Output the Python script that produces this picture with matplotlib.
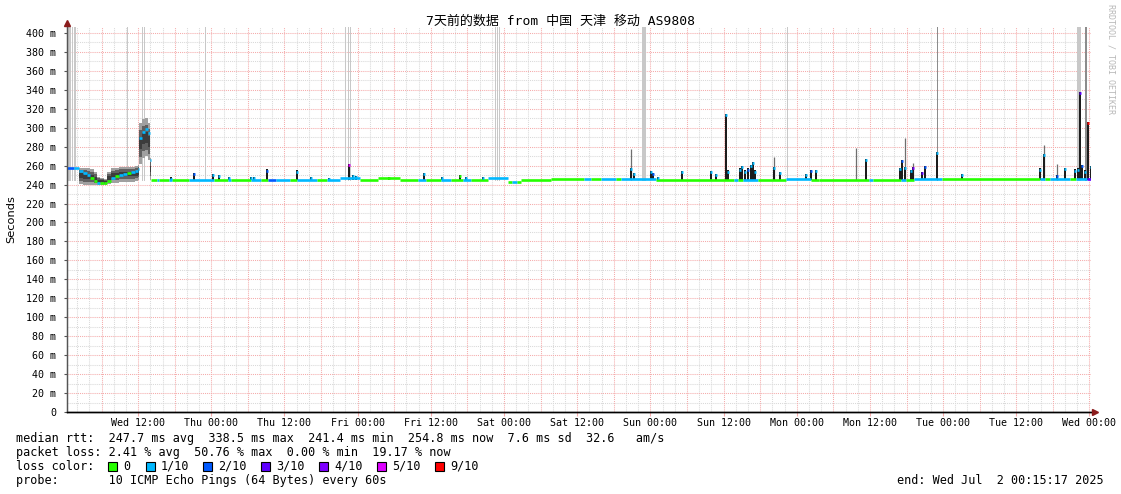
import numpy as np
import matplotlib
matplotlib.use('Agg')
import matplotlib.pyplot as plt
from matplotlib.collections import LineCollection
from matplotlib.patches import Rectangle

# ------------------------------------------------------------------ data
title = '7天前的数据 from 中国 天津 移动 AS9808'
t_start, t_end = 0.2547, 168.2547          # hours since Wed 00:00 (7 days)

xtick_hours = [12, 24, 36, 48, 60, 72, 84, 96, 108, 120, 132, 144, 156, 168]
xtick_labels = ['Wed 12:00', 'Thu 00:00', 'Thu 12:00', 'Fri 00:00', 'Fri 12:00',
                'Sat 00:00', 'Sat 12:00', 'Sun 00:00', 'Sun 12:00', 'Mon 00:00',
                'Mon 12:00', 'Tue 00:00', 'Tue 12:00', 'Wed 00:00']
ytick_values = list(range(0, 401, 20))
ytick_labels = ['0'] + ['%d m' % v for v in range(20, 401, 20)]

loss_levels = [0, 1, 2, 3, 4, 5, 9]
loss_labels = ['0', '1/10', '2/10', '3/10', '4/10', '5/10', '9/10']
loss_colors = ['#26ff00', '#00b8ff', '#0059ff', '#5e00ff', '#7e00ff', '#dd00ff', '#ff0000']

# median rtt (ms) as steps: start hour, value, loss (tenths)
med_t = [0.25, 1.44, 2.26, 2.92, 3.57, 4.07, 4.72, 5.21, 5.70, 6.36,
         6.85, 7.51, 8.16, 8.82, 9.48, 10.13, 10.79, 11.44, 11.93, 12.18,
         12.59, 13.08, 13.57, 13.90,
         14.07, 15.05, 15.38, 17.02, 17.51, 20.30, 24.39, 26.69, 27.18, 30.46,
         32.10, 33.25, 34.56, 36.98, 38.13, 41.41, 43.05, 45.18, 48.46, 51.28,
         55.02, 57.97, 59.15, 61.61, 63.25, 65.21, 66.52, 69.31, 72.59, 73.25,
         74.07, 74.72, 79.64, 85.05, 86.20, 87.84, 90.30, 91.11, 96.85, 109.64,
         110.30, 111.11, 113.57, 118.16, 122.26, 123.57, 131.77, 132.43, 137.02, 137.84,
         139.15, 143.90, 159.97, 160.79, 161.61, 164.89, 165.87, 167.67]
med_v = [257, 257, 254, 252, 250, 247, 244, 242, 242, 242,
         244, 247, 249, 250, 251, 252, 253, 254, 256, 289,
         296, 299, 294, 266,
         244.5, 244.5, 244.5, 244.5, 244.5, 244.5, 244.5, 244.5, 244.5, 244.5,
         244.5, 244.5, 244.5, 244.5, 244.5, 244.5, 244.5, 246.5, 245, 247,
         245, 245, 245, 245, 245, 245, 245, 246.5, 243, 243,
         243, 244.5, 245.5, 245.5, 245.5, 245.5, 245.5, 245.5, 245, 245,
         245, 245, 245, 246, 245, 245, 245, 245, 245, 245,
         245.5, 245.5, 245.5, 245.5, 245.5, 245.5, 245.5, 245.5]
med_loss = [2, 1, 1, 1, 1, 0, 0, 1, 0, 0,
            0, 1, 0, 1, 1, 0, 1, 1, 1, 1,
            1, 1, 1, 1,
            0, 1, 0, 1, 0, 1, 0, 1, 0, 1,
            0, 2, 1, 0, 1, 0, 1, 1, 0, 0,
            0, 1, 0, 1, 0, 1, 0, 1, 0, 1,
            0, 0, 0, 1, 0, 1, 0, 1, 0, 1,
            0, 1, 0, 1, 0, 0, 1, 0, 1, 0,
            1, 0, 1, 0, 1, 0, 1, 3]

# smoke (spread of pings) during the first hours
smoke_t = [2.26, 2.92, 3.57, 4.07, 4.72, 5.21, 5.70, 6.36, 6.85, 7.51, 8.16, 8.82,
           9.48, 10.13, 10.79, 11.44, 11.93, 12.18, 12.59, 13.08, 13.57, 13.90, 14.07]
smoke_lo = [241, 240, 240, 240, 240, 240, 240, 240, 241, 242, 242, 243,
            243, 243, 243, 244, 245, 262, 268, 270, 266, 245, 245]
smoke_hi = [258, 258, 257, 256, 253, 248, 247, 246, 253, 257, 258, 259,
            259, 259, 259, 260, 261, 305, 309, 310, 305, 268, 245]

# short latency spikes: hour, top (ms), loss at top
spike_t = [17.34, 21.11, 24.23, 25.21, 26.85, 30.46, 30.95, 33.08, 38.13, 40.30,
           43.25, 46.52, 47.21, 47.70, 53.11, 58.80, 61.90, 64.70, 65.70, 68.50,
           92.75, 93.25, 96.15, 96.50, 97.30, 101.20, 106.00, 106.80, 108.40, 108.70,
           110.70, 110.96, 111.45, 111.93, 112.43, 112.75, 113.08, 116.20, 117.20, 121.50,
           122.40, 123.10, 131.40, 137.00, 137.20, 137.70, 138.66, 139.10, 140.60, 141.00,
           143.00, 147.10, 159.85, 160.60, 162.70, 164.00, 165.70, 166.20, 166.50, 166.80,
           167.30, 167.70, 168.20]
spike_top = [247.5, 252, 251.5, 250, 248, 248, 248, 256, 255, 248,
             247, 262, 250, 249, 248, 252, 248, 250, 248, 248,
             258, 252, 254, 252, 248.5, 254, 254, 251, 315, 255,
             257, 260, 255, 257, 261, 264, 255, 259, 253.5, 251,
             255.5, 255.5, 267.5, 258, 266, 259, 255.5, 259, 253, 259.5,
             274.5, 251, 257, 272.4, 250, 258, 256, 257, 338, 261,
             255, 306.5, 259.6]
spike_loss = [1, 2, 1, 1, 1, 1, 1, 2, 1, 1,
              1, 5, 1, 1, 0, 1, 1, 0, 1, 1,
              1, 1, 1, 2, 1, 1, 1, 1, 1, 1,
              1, 1, 1, 2, 1, 1, 1, 1, 1, 1,
              2, 1, 1, 1, 2, 1, 1, 4, 3, 2,
              1, 1, 1, 1, 2, 1, 1, 1, 3, 2,
              1, 9, 1]

# single slow pings (thin whiskers)
whisk_t = [92.75, 116.20, 129.70, 137.70, 139.10, 160.60, 162.70]
whisk_top = [278, 269, 278.5, 289, 262.5, 282, 262]

# periods where max ping is off the scale
gap_start = [0.41, 1.11, 1.49, 10.22, 12.59, 12.92, 23.00, 45.95, 46.36, 46.69,
             70.54, 70.82, 71.20, 94.67, 118.46, 165.98]
gap_end = [0.95, 1.39, 1.77, 10.38, 12.75, 13.08, 23.16, 46.11, 46.52, 46.85,
           70.70, 70.98, 71.36, 95.33, 118.62, 166.64]
dgap_start = [143.00, 167.34]
dgap_end = [143.16, 167.62]

stats_rtt = 'median rtt:  247.7 ms avg  338.5 ms max  241.4 ms min  254.8 ms now  7.6 ms sd  32.6   am/s'
stats_loss = 'packet loss: 2.41 % avg  50.76 % max  0.00 % min  19.17 % now'
probe_txt = 'probe:       10 ICMP Echo Pings (64 Bytes) every 60s'
end_txt = 'end: Wed Jul  2 00:15:17 2025'

# ------------------------------------------------------------------ figure
W, H = 1121, 494
fig = plt.figure(figsize=(W / 100, H / 100), dpi=100)
fig.patch.set_facecolor('white')
L, R, B, T = 66.5, 1091, 412, 27
ax = fig.add_axes([L / W, 1 - B / H, (R - L) / W, (B - T) / H])
ymax = 400 + (33 - T) * 400 / (412 - 33)
ax.set_xlim(t_start, t_end)
ax.set_ylim(0, ymax)

MONO = 'DejaVu Sans Mono'
cmap = dict(zip(loss_levels, loss_colors))
px_h = (t_end - t_start) / (R - L)   # hours per pixel

# grid
for v in np.arange(10, 401, 10):
    major = (v % 20 == 0)
    ax.axhline(v, color='#f5abab' if major else '#d9d9d9', lw=0.75,
               ls=(0, (1, 1)), zorder=0.5 if major else 0.4)
for h in np.arange(2, 169, 2):
    major = (h % 6 == 0)
    ax.axvline(h, color='#f5abab' if major else '#d9d9d9', lw=0.75,
               ls=(0, (1, 1)), zorder=0.5 if major else 0.4)

# off-scale gaps
for s, e in zip(gap_start, gap_end):
    ax.add_patch(Rectangle((s, 244), e - s, ymax - 244, color='#c8c8c8', lw=0, zorder=1))
for s, e in zip(dgap_start, dgap_end):
    ax.add_patch(Rectangle((s, 244), e - s, ymax - 244, color='#8c8c8c', lw=0, zorder=1))

# smoke
st = np.array(smoke_t); lo = np.array(smoke_lo, float); hi = np.array(smoke_hi, float)
mid = (lo + hi) / 2
ax.fill_between(st, lo, hi, step='post', color='#a0a0a0', lw=0, zorder=2)
ax.fill_between(st, mid - (hi - lo) * 0.33, mid + (hi - lo) * 0.33, step='post',
                color='#606060', lw=0, zorder=2.1)
ax.fill_between(st, mid - (hi - lo) * 0.15, mid + (hi - lo) * 0.15, step='post',
                color='#3c3c3c', lw=0, zorder=2.2)

# whiskers
ax.vlines(whisk_t, 245, whisk_top, color='#6e6e6e', lw=0.9, zorder=2.5)

# spikes
bw = 2 * px_h
ax.bar(spike_t, np.array(spike_top) - 244.5, bottom=244.5, width=bw,
       color='#1c1c1c', lw=0, zorder=3)

# median line
segs, cols = [], []
ends = med_t[1:] + [t_end]
for t0, t1, v, l in zip(med_t, ends, med_v, med_loss):
    segs.append([(t0, v), (t1, v)])
    cols.append(cmap[l])
ax.add_collection(LineCollection(segs, colors=cols, linewidths=1.9,
                                 capstyle='butt', zorder=4))
# spike caps
capsegs = [[(t - bw / 2, v - 1.2), (t + bw / 2, v - 1.2)] for t, v in zip(spike_t, spike_top)]
ax.add_collection(LineCollection(capsegs, colors=[cmap[l] for l in spike_loss],
                                 linewidths=1.9, capstyle='butt', zorder=4.5))

# axes styling
for s in ['top', 'right']:
    ax.spines[s].set_visible(False)
ax.spines['left'].set_color('#555555')
ax.spines['left'].set_linewidth(0.9)
ax.spines['bottom'].set_color('black')
ax.spines['bottom'].set_linewidth(1.0)
ax.set_yticks(ytick_values)
ax.set_yticklabels(ytick_labels, fontsize=7.2, family=MONO)
ax.tick_params(axis='y', length=2.5, width=0.8, color='#555555', pad=5)
ax.set_xticks(xtick_hours)
ax.set_xticklabels(xtick_labels, fontsize=7.2, family=MONO)
ax.tick_params(axis='x', length=3, width=0.8, color='#f5abab', pad=1.5)
ax.set_ylabel('Seconds', fontsize=8.2, family='DejaVu Sans')
ax.yaxis.set_label_coords(-50 / (R - L), 0.5)

# axis lines and arrows
fig.add_artist(plt.Line2D([L / W, L / W], [1 - B / H, 1 - 22 / H], color='#555555', lw=0.9))
fig.add_artist(plt.Line2D([L / W, 1094 / W], [1 - B / H, 1 - B / H], color='black', lw=1.0))
fig.add_artist(plt.Line2D([L / W], [1 - 23 / H], marker='^', ms=4.5, color='#8b1c1c', lw=0))
fig.add_artist(plt.Line2D([1095 / W], [1 - B / H], marker='>', ms=4.5, color='#8b1c1c', lw=0))

# title
fig.text(0.5, 1 - 21 / H, title, ha='center', va='center', fontsize=9.4,
         family=[MONO, 'Noto Sans CJK SC'])
fig.text(1111 / W, 1 - 4 / H, 'RRDTOOL / TOBI OETIKER', rotation=-90, ha='center',
         va='top', fontsize=6, family=MONO, color='#b8b8b8')

# legend lines
fs = 8.5
fig.text(16 / W, 1 - 438 / H, stats_rtt, ha='left', va='center', fontsize=fs, family=MONO)
fig.text(16 / W, 1 - 452 / H, stats_loss, ha='left', va='center', fontsize=fs, family=MONO)
fig.text(16 / W, 1 - 466 / H, 'loss color:', ha='left', va='center', fontsize=fs, family=MONO)
fig.text(16 / W, 1 - 480 / H, probe_txt, ha='left', va='center', fontsize=fs, family=MONO)
fig.text(1104 / W, 1 - 480 / H, end_txt, ha='right', va='center', fontsize=fs, family=MONO)

box_x = [108, 146, 203, 261, 319, 377, 435]
for bx, lab, c in zip(box_x, loss_labels, loss_colors):
    fig.add_artist(Rectangle((bx / W, 1 - 471 / H), 9 / W, 9 / H, facecolor=c,
                             edgecolor='black', lw=0.8, transform=fig.transFigure))
    fig.text((bx + 15) / W, 1 - 466 / H, lab, ha='left', va='center', fontsize=fs, family=MONO)

fig.savefig('out.png', dpi=100)
